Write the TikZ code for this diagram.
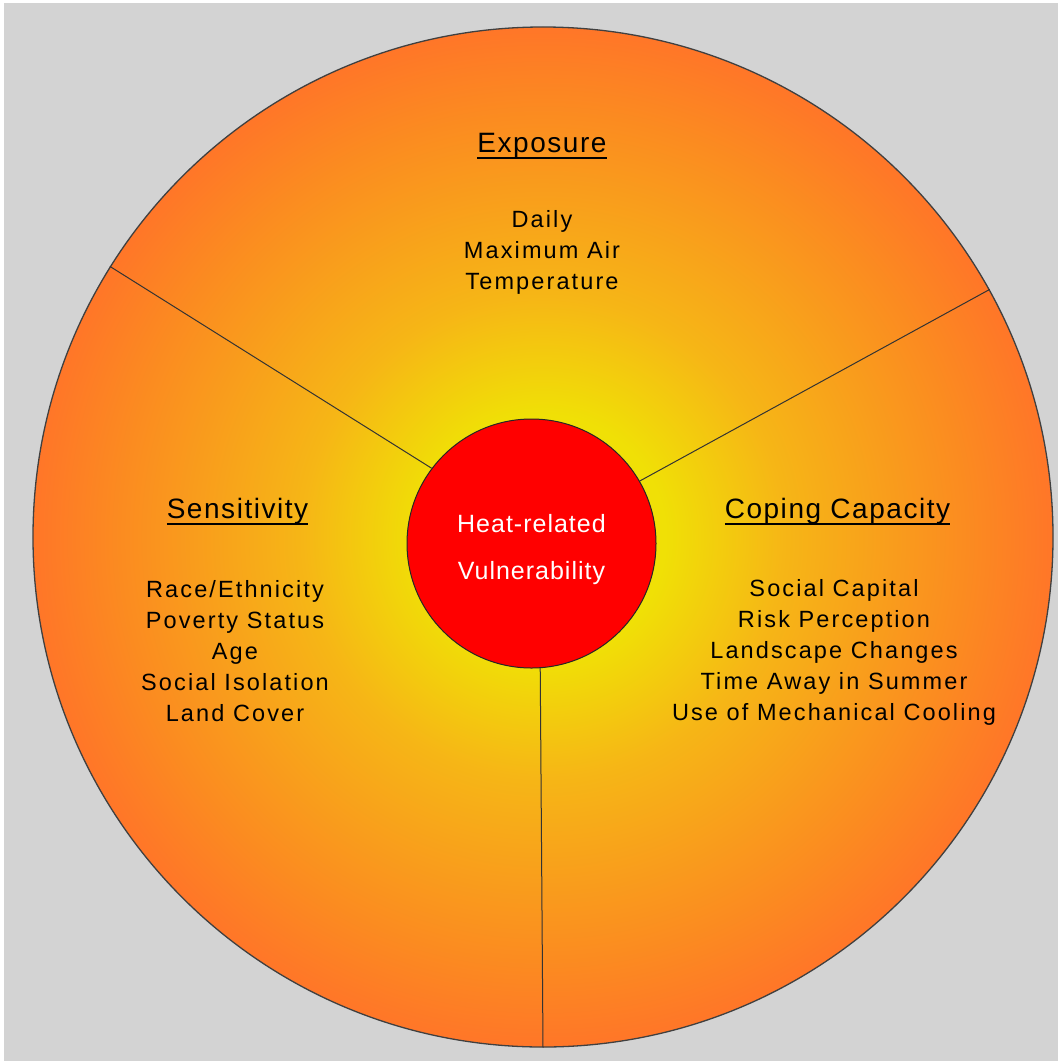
\documentclass[tikz,border=0pt]{standalone}
\usepackage{fontspec}
\setmainfont{Liberation Sans}
\newfontfamily\headfont{Liberation Sans}[LetterSpace=5.5]
\newfontfamily\itemfont{Liberation Sans}[LetterSpace=9]
\newfontfamily\hubfont{Liberation Sans}[LetterSpace=4]
\definecolor{paneGray}{RGB}{211,211,211}
\definecolor{glowYellow}{RGB}{240,224,6}
\definecolor{glowAmber}{RGB}{246,182,22}
\definecolor{glowOrange}{RGB}{251,140,32}
\definecolor{rimOrange}{RGB}{255,118,40}
\definecolor{hubRed}{RGB}{255,0,0}
\pgfdeclareradialshading{heatglow}{\pgfpoint{0bp}{0bp}}{color(0bp)=(glowYellow); color(6bp)=(glowYellow); color(11.8bp)=(glowAmber); color(20.6bp)=(glowOrange); color(25bp)=(rimOrange); color(50bp)=(rimOrange)}
\newcommand{\headline}[1]{\setbox0\hbox{#1}\rlap{\rule[-7bp]{\wd0}{1.8bp}}\box0}

\begin{document}
\begin{tikzpicture}[x=1bp, y=-1bp,
  disc/.style={circle, draw=black!75, line width=1.3bp, minimum size=1020bp, inner sep=0pt, shading=heatglow},
  hub/.style={circle, draw=black!85, line width=1bp, fill=hubRed, minimum size=249bp, inner sep=0pt, text=white, align=center, font=\hubfont\fontsize{25bp}{47bp}\selectfont},
  spoke/.style={draw=black!80, line width=1bp},
  head/.style={anchor=base, font=\headfont\fontsize{28bp}{34bp}\selectfont},
  items/.style={anchor=base, align=center, font=\itemfont\fontsize{23.5bp}{31bp}\selectfont}]
\fill[white] (0,0) rectangle (1058,1061);
\fill[paneGray] (4,3) rectangle (1058,1061);
\useasboundingbox (0,0) rectangle (1058,1061);

\node[disc] (disc) at (543,537) {};
\node[hub] (vuln) at (531.5,543.5) {\rule{0pt}{31bp}Heat-related\\Vulnerability};
\draw[spoke] (vuln.143) -- (disc.148.4);
\draw[spoke] (vuln.30.3) -- (disc.29.8);
\draw[spoke] (vuln.274.8) -- (disc.270.4);

% the three parts (lists sit on their last line)
\node[head] (expoHead) at (542,152) {\headline{Exposure}};
\node[items] (expoList) at (542,289) {Daily\\Maximum Air\\Temperature};
\node[head] (sensHead) at (237.5,518) {\headline{Sensitivity}};
\node[items] (sensList) at (235,721) {Race/Ethnicity\\Poverty Status\\Age\\Social Isolation\\Land Cover};
\node[head] (copeHead) at (837.5,518) {\headline{Coping Capacity}};
\node[items] (copeList) at (834,720) {Social Capital\\Risk Perception\\Landscape Changes\\Time Away in Summer\\Use of Mechanical Cooling};
\end{tikzpicture}
\end{document}
